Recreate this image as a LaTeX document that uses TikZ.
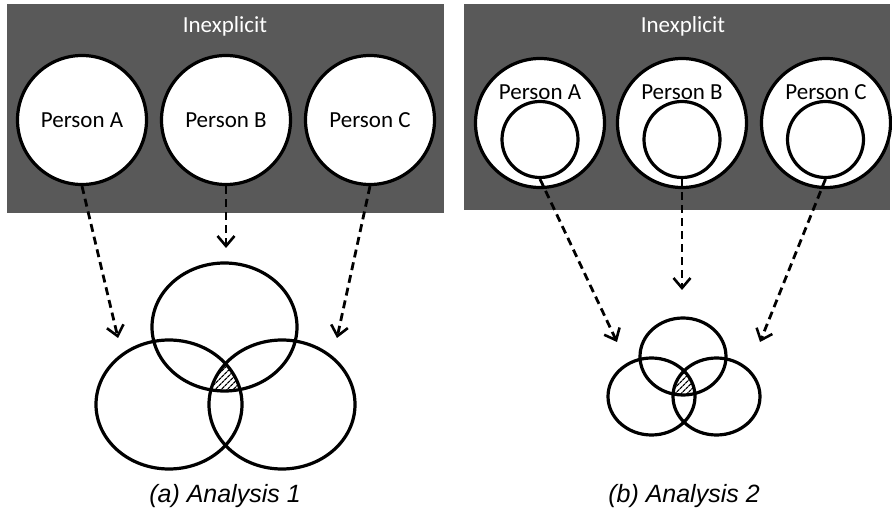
\documentclass[tikz,border=0pt]{standalone}
\usepackage{fontspec}
\setmainfont{Carlito}
\newfontfamily\captionfont{Liberation Sans}
\usetikzlibrary{arrows.meta,patterns.meta,shapes.geometric}

\definecolor{panelgray}{RGB}{89,89,89}

\tikzset{
	person/.style={circle, draw=black, fill=white, line width=3.2pt, minimum size=129pt, inner sep=0pt, font=\fontsize{23}{27}\selectfont},
	inner/.style={circle, draw=black, fill=white, line width=3.2pt, minimum size=76pt, inner sep=0pt},
	personlabel/.style={inner sep=0.75pt, font=\fontsize{23}{27}\selectfont},
	dasharrow/.style={line width=2.8pt, dash pattern=on 8pt off 5pt, -{Straight Barb[length=10pt,width=17pt,line width=2.6pt]}},
	venn/.style={ellipse, draw=black, line width=3.2pt, inner sep=0pt},
	hatch/.style={pattern={Lines[angle=45,distance=4pt,line width=1.3pt]}},
	title/.style={text=white, inner sep=0.75pt, font=\fontsize{23}{27}\selectfont},
	caption/.style={inner sep=0.75pt, font=\captionfont\itshape\fontsize{25}{29}\selectfont}
}

\begin{document}
\begin{tikzpicture}[x=1pt,y=1pt,yscale=-1,xscale=1]
		\useasboundingbox (0,0) rectangle (892,521);

		% Gray panels behind the persons
		\fill[panelgray] (7,4) rectangle (444,213);
		\fill[panelgray] (464,4) rectangle (890,210);

		% Panel titles
		\node[title] (titlea) at (225,26) {Inexplicit};
		\node[title] (titleb) at (683,26) {Inexplicit};

		% Persons of analysis 1
		\node[person] (pa) at (82,120) {Person A};
		\node[person] (pb) at (226,120) {Person B};
		\node[person] (pc) at (370,120) {Person C};

		% Persons of analysis 2, with an inner circle each
		\node[person] (qa) at (540,123) {};
		\node[person] (qb) at (682,123) {};
		\node[person] (qc) at (826,123) {};
		\node[personlabel] (qat) at (540,92) {Person A};
		\node[personlabel] (qbt) at (682,92) {Person B};
		\node[personlabel] (qct) at (826,92) {Person C};
		\node[inner] (ia) at (540,139.5) {};
		\node[inner] (ib) at (682,139.5) {};
		\node[inner] (ic) at (825.5,139.5) {};

		% Venn diagram of analysis 1
		\node[venn, minimum width=145pt, minimum height=128pt] (va) at (224.5,327) {};
		\node[venn, minimum width=146pt, minimum height=129pt] (vb) at (169,404.5) {};
		\node[venn, minimum width=146pt, minimum height=129pt] (vc) at (282,404.5) {};
		\begin{scope}
			\clip (224.5,327) ellipse [x radius=72.5pt, y radius=64pt];
			\clip (169,404.5) ellipse [x radius=73pt, y radius=64.5pt];
			\fill[hatch] (282,404.5) ellipse [x radius=73pt, y radius=64.5pt];
		\end{scope}

		% Venn diagram of analysis 2
		\node[venn, minimum width=86pt, minimum height=77pt] (wa) at (683,356.5) {};
		\node[venn, minimum width=87pt, minimum height=77pt] (wb) at (651.5,396.5) {};
		\node[venn, minimum width=87pt, minimum height=77pt] (wc) at (716.5,396.5) {};
		\begin{scope}
			\clip (683,356.5) ellipse [x radius=43pt, y radius=38.5pt];
			\clip (651.5,396.5) ellipse [x radius=43.5pt, y radius=38.5pt];
			\fill[hatch] (716.5,396.5) ellipse [x radius=43.5pt, y radius=38.5pt];
		\end{scope}

		% Arrow ends
		\coordinate (ea) at (118,338);
		\coordinate (eb) at (226,248);
		\coordinate (ec) at (337,338);
		\coordinate (fa) at (617,342);
		\coordinate (fb) at (682,290);
		\coordinate (fc) at (760,342);

		% Dashed arrows
		\draw[dasharrow] (pa.south) -- (ea);
		\draw[dasharrow] (pb.south) -- (eb);
		\draw[dasharrow] (pc.south) -- (ec);
		\draw[dasharrow] (ia.south) -- (fa);
		\draw[dasharrow] (ib.south) -- (fb);
		\draw[dasharrow] (ic.south) -- (fc);

		% Captions
		\node[caption] (capa) at (225,496) {(a) Analysis 1};
		\node[caption] (capb) at (684,496) {(b) Analysis 2};
	\end{tikzpicture}
\end{document}
